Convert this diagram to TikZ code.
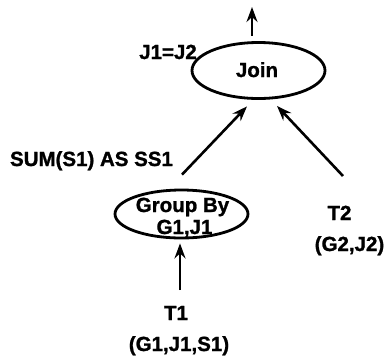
\documentclass[tikz,border=0pt]{standalone}
\usepackage{fontspec}
\setmainfont[FakeBold=1.2]{Liberation Sans}
\usetikzlibrary{arrows.meta,shapes.geometric}
\begin{document}
\begin{tikzpicture}[x=1pt,y=-1pt,
  txt/.style={font=\fontsize{20.5}{22}\selectfont\bfseries, inner sep=0pt, anchor=base},
  oval/.style={draw, ellipse, line width=2.8pt, inner sep=0pt},
  arr/.style={line width=2.6pt, -{Stealth[length=15pt,width=11pt,inset=5pt]}}]
\useasboundingbox (0,0) rectangle (388,360);
% nodes
\node[oval, minimum width=133pt, minimum height=56pt] (join) at (258.5,70.5) {};
\node[txt] (jointxt) at (257,77) {Join};
\node[txt] (cond) at (168,59) {J1=J2};
\node[oval, minimum width=133pt, minimum height=48pt] (gb) at (181.5,214) {};
\node[txt] (gb1) at (182.5,212) {Group By};
\node[txt] (gb2) at (184.5,234) {G1,J1};
\node[txt] (agg) at (91.5,166) {SUM(S1) AS SS1};
\node[txt] (t1) at (176,320) {T1};
\node[txt] (t1a) at (179,351) {(G1,J1,S1)};
\node[txt] (t2) at (339.5,220) {T2};
\node[txt] (t2a) at (349.5,251) {(G2,J2)};
\coordinate (out) at (252,7);
% connectors
\draw[arr] ([xshift=-6.5pt,yshift=5.5pt]join.north) -- (out);
\draw[arr] ([xshift=0.5pt,yshift=14pt]gb.north) -- ([xshift=-11.5pt,yshift=-6.5pt]join.south);
\draw[arr] ([xshift=3.5pt,yshift=44pt]t2.base) -- ([xshift=18.5pt,yshift=-6pt]join.south);
\draw[arr] ([xshift=4pt,yshift=30pt]t1.base) -- ([xshift=-1.5pt,yshift=-4pt]gb.south);
\end{tikzpicture}
\end{document}
